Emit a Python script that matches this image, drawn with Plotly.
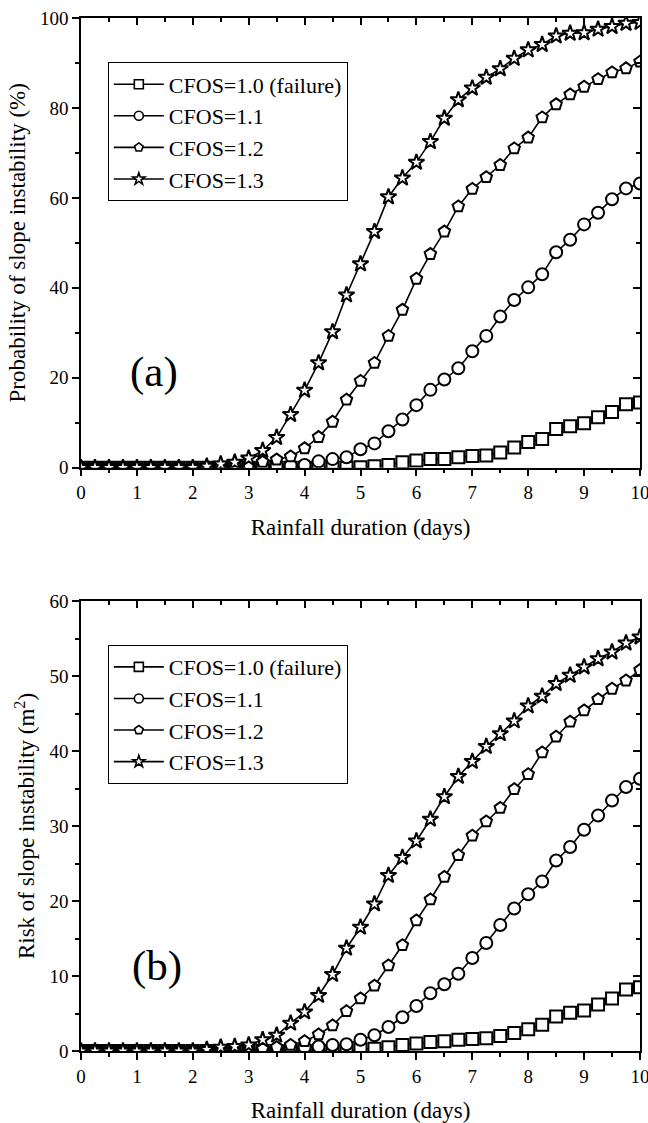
import plotly.graph_objects as go

# Rainfall duration (days), sampled every 6 hours
days = [0, 0.25, 0.5, 0.75, 1, 1.25, 1.5, 1.75, 2, 2.25, 2.5, 2.75, 3, 3.25, 3.5, 3.75,
        4, 4.25, 4.5, 4.75, 5, 5.25, 5.5, 5.75, 6, 6.25, 6.5, 6.75, 7, 7.25, 7.5, 7.75,
        8, 8.25, 8.5, 8.75, 9, 9.25, 9.5, 9.75, 10]

series_names = ["CFOS=1.0 (failure)", "CFOS=1.1", "CFOS=1.2", "CFOS=1.3"]
series_symbols = ["square", "circle", "pentagon", "star"]

# (a) probability of slope instability (%)
prob_10 = [0] * 20 + [0.1, 0.3, 0.6, 1.2, 1.6, 1.9, 1.9, 2.3, 2.6, 2.7, 3.4, 4.5, 5.7, 6.4,
                      8.6, 9.2, 9.9, 11.2, 12.4, 14.1, 14.5]
prob_11 = [0] * 12 + [0.2, 0.3, 0.4, 0.5, 0.6, 1.4, 1.9, 2.3, 4.1, 5.4, 8.1, 10.7, 13.9, 17.3,
                      19.6, 22.1, 25.9, 29.3, 33.6, 37.3, 40.1, 43.0, 47.9, 50.7, 54.1, 56.7,
                      59.7, 62.1, 63.2]
prob_12 = [0] * 10 + [0.3, 0.4, 0.6, 1.3, 1.8, 2.5, 4.3, 6.8, 10.2, 15.1, 19.3, 23.3, 29.3,
                      35.1, 42.0, 47.5, 52.5, 58.1, 62.0, 64.6, 67.3, 71.0, 73.4, 77.9, 80.8,
                      83.0, 84.7, 86.4, 87.9, 88.8, 90.3]
prob_13 = [0] * 9 + [0.3, 0.8, 1.2, 2.1, 3.8, 6.7, 11.8, 17.2, 23.3, 30.2, 38.4, 45.3, 52.5,
                     60.2, 64.4, 67.9, 72.5, 77.7, 81.8, 84.4, 86.8, 88.7, 91.0, 92.9, 94.1,
                     96.0, 96.6, 96.7, 97.5, 98.1, 98.8, 99.0]

# (b) risk of slope instability (m2)
risk_10 = [0] * 20 + [0.2, 0.3, 0.5, 0.8, 1.0, 1.2, 1.3, 1.5, 1.6, 1.7, 2.0, 2.4, 2.9, 3.5,
                      4.6, 5.1, 5.4, 6.2, 7.0, 8.2, 8.5]
risk_11 = [0] * 14 + [0.3, 0.4, 0.5, 0.6, 0.8, 0.9, 1.5, 2.1, 3.2, 4.5, 6.0, 7.7, 8.9, 10.3,
                      12.4, 14.4, 16.8, 19.0, 20.9, 22.6, 25.4, 27.2, 29.5, 31.4, 33.4, 35.2,
                      36.3]
risk_12 = [0] * 13 + [0.3, 0.5, 0.8, 1.3, 2.2, 3.4, 5.3, 7.0, 8.7, 11.4, 14.1, 17.4, 20.2,
                      23.2, 26.1, 28.7, 30.6, 32.4, 34.9, 36.9, 39.8, 41.9, 43.9, 45.4, 46.9,
                      48.3, 49.4, 50.8]
risk_13 = [0] * 9 + [0.2, 0.5, 0.6, 0.8, 1.5, 2.1, 3.7, 5.2, 7.4, 10.2, 13.7, 16.5, 19.6,
                     23.4, 25.8, 28.0, 30.9, 33.9, 36.6, 38.6, 40.6, 42.3, 44.0, 46.0, 47.3,
                     49.0, 50.1, 51.2, 52.3, 53.2, 54.4, 55.2]

FONT = "Liberation Serif"
TICK_SIZE = 19
TITLE_SIZE = 23
LEGEND_SIZE = 22
LINE_W = 1.5

fig = go.Figure()

panels = [
    ([prob_10, prob_11, prob_12, prob_13], "x", "y", "legend"),
    ([risk_10, risk_11, risk_12, risk_13], "x2", "y2", "legend2"),
]
for values, xa, ya, leg in panels:
    for name, sym, vals in zip(series_names, series_symbols, values):
        # data curve with white-filled markers
        fig.add_trace(go.Scatter(
            x=days, y=vals, name=name, mode="lines+markers",
            xaxis=xa, yaxis=ya, showlegend=False,
            line=dict(color="black", width=1.6),
            marker=dict(symbol=sym, size=12, color="white",
                        line=dict(color="black", width=2)),
        ))
        # legend key with a smaller symbol
        fig.add_trace(go.Scatter(
            x=[None], y=[None], name=name, mode="lines+markers",
            xaxis=xa, yaxis=ya, legend=leg, hoverinfo="skip",
            line=dict(color="black", width=1.6),
            marker=dict(symbol=sym, size=9, color="white",
                        line=dict(color="black", width=1.6)),
        ))

# placeholder traces so the mirrored frame axes get drawn
for xa, ya in [("x3", "y3"), ("x4", "y4")]:
    fig.add_trace(go.Scatter(x=[None], y=[None], xaxis=xa, yaxis=ya,
                             showlegend=False, hoverinfo="skip"))

top_dom = [0.5647, 1.0]
bot_dom = [0.0, 0.4356]


def xaxis_main(anchor, title):
    return dict(
        domain=[0, 1], anchor=anchor, range=[0, 10], dtick=1, tick0=0, automargin=False,
        ticks="outside", ticklen=7, tickwidth=LINE_W, tickcolor="black",
        minor=dict(ticks="outside", dtick=0.5, ticklen=4, tickwidth=LINE_W, tickcolor="black"),
        showline=True, linewidth=LINE_W, linecolor="black", showgrid=False, zeroline=False,
        tickfont=dict(family=FONT, size=TICK_SIZE, color="black"),
        ticklabeloverflow="allow",
        title=dict(text=title, font=dict(family=FONT, size=TITLE_SIZE, color="black"),
                   standoff=17),
    )


def yaxis_main(anchor, dom, rng, dtick, minor, title):
    return dict(
        domain=dom, anchor=anchor, range=rng, dtick=dtick, tick0=0, automargin=False,
        ticks="outside", ticklen=7, tickwidth=LINE_W, tickcolor="black",
        minor=dict(ticks="outside", dtick=minor, ticklen=4, tickwidth=LINE_W, tickcolor="black"),
        showline=True, linewidth=LINE_W, linecolor="black", showgrid=False, zeroline=False,
        tickfont=dict(family=FONT, size=TICK_SIZE, color="black"),
        title=dict(text=title, font=dict(family=FONT, size=TITLE_SIZE, color="black"),
                   standoff=8),
    )


def xaxis_top(over, anchor):
    return dict(
        overlaying=over, anchor=anchor, side="top", range=[0, 10], dtick=1, tick0=0,
        automargin=False,
        ticks="inside", ticklen=7, tickwidth=LINE_W, tickcolor="black",
        minor=dict(ticks="inside", dtick=0.5, ticklen=4, tickwidth=LINE_W, tickcolor="black"),
        showline=True, linewidth=LINE_W, linecolor="black", showgrid=False, zeroline=False,
        showticklabels=False,
    )


def yaxis_right(over, anchor, rng, dtick, minor):
    return dict(
        overlaying=over, anchor=anchor, side="right", range=rng, dtick=dtick, tick0=0,
        automargin=False,
        ticks="inside", ticklen=7, tickwidth=LINE_W, tickcolor="black",
        minor=dict(ticks="inside", dtick=minor, ticklen=4, tickwidth=LINE_W, tickcolor="black"),
        showline=True, linewidth=LINE_W, linecolor="black", showgrid=False, zeroline=False,
        showticklabels=False,
    )


legend_style = dict(
    font=dict(family=FONT, size=LEGEND_SIZE, color="black"),
    bgcolor="white", bordercolor="black", borderwidth=1,
    xanchor="left", yanchor="top", tracegroupgap=0, itemwidth=50,
)

fig.update_layout(
    width=648, height=1123,
    margin=dict(l=81, r=8, t=18, b=72, autoexpand=False),
    paper_bgcolor="white", plot_bgcolor="white",
    font=dict(family=FONT, color="black"),
    xaxis=xaxis_main("y", "Rainfall duration (days)"),
    yaxis=yaxis_main("x", top_dom, [0, 100], 20, 10, "Probability of slope instability (%)"),
    xaxis2=xaxis_main("y2", "Rainfall duration (days)"),
    yaxis2=yaxis_main("x2", bot_dom, [0, 60], 10, 5, "Risk of slope instability (m<sup>2</sup>)"),
    xaxis3=xaxis_top("x", "y"),
    yaxis3=yaxis_right("y", "x", [0, 100], 20, 10),
    xaxis4=xaxis_top("x2", "y2"),
    yaxis4=yaxis_right("y2", "x2", [0, 60], 10, 5),
    legend=dict(x=0.048, y=0.957, **legend_style),
    legend2=dict(x=0.048, y=0.393, **legend_style),
    annotations=[
        dict(text="(a)", x=1.31, y=21.3, xref="x", yref="y", showarrow=False,
             font=dict(family=FONT, size=43, color="black")),
        dict(text="(b)", x=1.36, y=11.4, xref="x2", yref="y2", showarrow=False,
             font=dict(family=FONT, size=43, color="black")),
    ],
    showlegend=True,
)

fig.write_html("out.html")
